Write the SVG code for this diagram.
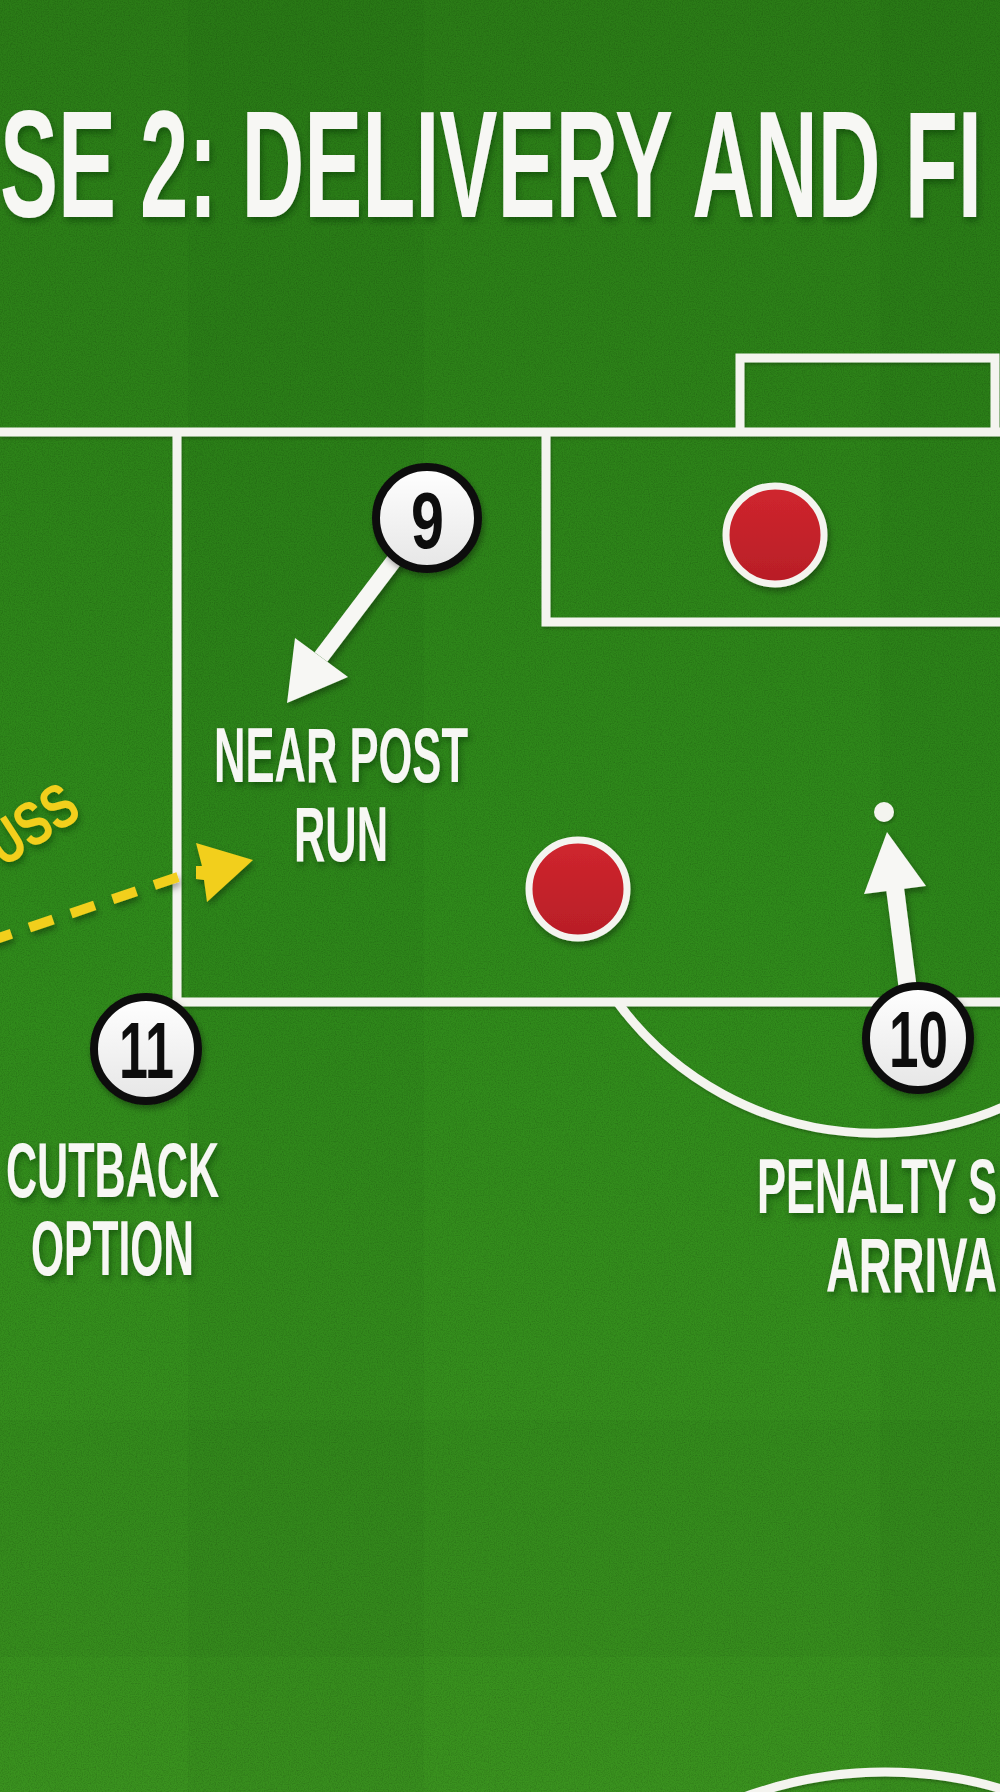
<svg xmlns="http://www.w3.org/2000/svg" width="1000" height="1792" viewBox="0 0 1000 1792">
  <defs>
    <linearGradient id="grass" x1="0" y1="0" x2="0" y2="1">
      <stop offset="0" stop-color="#2b7c17"/>
      <stop offset="0.5" stop-color="#2f8a1b"/>
      <stop offset="1" stop-color="#3a921f"/>
    </linearGradient>
    <linearGradient id="tokenFill" x1="0" y1="0" x2="0" y2="1">
      <stop offset="0" stop-color="#ffffff"/>
      <stop offset="1" stop-color="#e6e6e6"/>
    </linearGradient>
    <linearGradient id="redFill" x1="0" y1="0" x2="0" y2="1">
      <stop offset="0" stop-color="#d0262e"/>
      <stop offset="1" stop-color="#b81e27"/>
    </linearGradient>
    <filter id="noise" x="0" y="0" width="100%" height="100%">
      <feTurbulence type="fractalNoise" baseFrequency="0.85" numOctaves="2" seed="4" result="t"/>
      <feColorMatrix in="t" type="matrix" values="0 0 0 0 0  0 0 0 0 0  0 0 0 0 0  1.4 0 0 0 -0.55"/>
    </filter>
    <filter id="sh" x="-20%" y="-20%" width="140%" height="150%">
      <feDropShadow dx="2" dy="4" stdDeviation="3" flood-color="#000" flood-opacity="0.35"/>
    </filter>
    <filter id="tsh" x="-10%" y="-20%" width="120%" height="150%">
      <feDropShadow dx="2" dy="4" stdDeviation="3" flood-color="#0a2a05" flood-opacity="0.45"/>
    </filter>
    <filter id="lsh" x="-5%" y="-5%" width="110%" height="110%">
      <feDropShadow dx="1" dy="2" stdDeviation="1.5" flood-color="#000" flood-opacity="0.25"/>
    </filter>
  </defs>
  <style>
    .line { fill: none; stroke: #f4f4ef; stroke-width: 9; }
    .title { font-family: "Liberation Sans", "DejaVu Sans", sans-serif; font-weight: bold; font-size: 152px; fill: #f7f7f4; }
    .label { font-family: "Liberation Sans", "DejaVu Sans", sans-serif; font-weight: bold; font-size: 78px; fill: #f7f7f4; text-anchor: start; }
    .num { font-family: "Liberation Sans", "DejaVu Sans", sans-serif; font-weight: bold; font-size: 80px; fill: #111; }
    .ring { fill: url(#tokenFill); stroke: #111; stroke-width: 8; }
    .opp { fill: url(#redFill); stroke: #f4f4ef; stroke-width: 7; }
    .run { fill: #f7f7f4; }
    .cross { fill: none; stroke: #f2cf1d; stroke-width: 10; stroke-dasharray: 25 19; }
    .crossHead { fill: #f2cf1d; }
    .crossText { font-family: "Liberation Sans", "DejaVu Sans", sans-serif; font-weight: bold; font-size: 62px; fill: #f2cf1d; }
  </style>

  <!-- grass -->
  <rect x="0" y="0" width="1000" height="1792" fill="url(#grass)"/>
  <g>
    <rect x="188" y="0" width="236" height="1792" fill="#000" opacity="0.025"/>
    <rect x="880" y="0" width="120" height="1792" fill="#000" opacity="0.025"/>
    <rect x="0" y="1420" width="1000" height="237" fill="#000" opacity="0.025"/>
  </g>
  <rect x="0" y="0" width="1000" height="1792" filter="url(#noise)" opacity="0.22"/>

  <!-- pitch markings -->
  <g id="pitch" filter="url(#lsh)">
    <path class="line" d="M 740 432 V 358 H 995 V 432"/>
    <line class="line" x1="0" y1="432" x2="1000" y2="432"/>
    <path class="line" d="M 177 432 V 1002 H 1000"/>
    <path class="line" d="M 546 432 V 622 H 1000"/>
    <path class="line" d="M 617.3 1002 A 321 321 0 0 0 1135 1002"/>
    <circle cx="885" cy="2182" r="410" class="line"/>
    <circle id="penalty-spot" cx="884" cy="812" r="10" fill="#f4f4ef"/>
  </g>

  <!-- title -->
  <text class="title" x="0" y="217" textLength="982" lengthAdjust="spacingAndGlyphs" filter="url(#tsh)">SE 2: DELIVERY AND FI</text>

  <!-- connectors -->
  <g id="connectors">
    <g id="run-9" filter="url(#sh)">
      <line x1="405" y1="546" x2="321" y2="657" stroke="#f7f7f4" stroke-width="16"/>
      <polygon class="run" points="287,703 295,638 348,677"/>
    </g>
    <g id="run-10" filter="url(#sh)">
      <line x1="908" y1="990" x2="895" y2="888" stroke="#f7f7f4" stroke-width="18"/>
      <polygon class="run" points="887,832 864,894 926,886"/>
    </g>
    <g id="cross-pass" filter="url(#sh)">
      <path class="cross" d="M 178 877 L -10 941"/>
      <polygon class="crossHead" points="253,860 196,843 202,866 196,866 196,879 204,880 207,902"/>
    </g>
  </g>

  <!-- opponents -->
  <g id="opponent-1" filter="url(#sh)">
    <circle class="opp" cx="775" cy="535" r="49"/>
  </g>
  <g id="opponent-2" filter="url(#sh)">
    <circle class="opp" cx="578" cy="889" r="49"/>
  </g>

  <!-- players -->
  <g id="player-9" filter="url(#sh)">
    <circle class="ring" cx="427" cy="518" r="51"/>
    <text class="num" x="411" y="548" textLength="33" lengthAdjust="spacingAndGlyphs">9</text>
  </g>
  <g id="player-11" filter="url(#sh)">
    <circle class="ring" cx="146" cy="1049" r="52"/>
    <text class="num" x="119" y="1078" textLength="55" lengthAdjust="spacingAndGlyphs">11</text>
  </g>
  <g id="player-10" filter="url(#sh)">
    <circle class="ring" cx="918" cy="1038" r="52"/>
    <text class="num" x="889" y="1067" textLength="59" lengthAdjust="spacingAndGlyphs">10</text>
  </g>

  <!-- labels -->
  <g id="labels" filter="url(#tsh)">
    <text class="label" x="214" y="782" textLength="254" lengthAdjust="spacingAndGlyphs">NEAR POST</text>
    <text class="label" x="294" y="861" textLength="94" lengthAdjust="spacingAndGlyphs">RUN</text>
    <text class="label" x="6" y="1197" textLength="213" lengthAdjust="spacingAndGlyphs">CUTBACK</text>
    <text class="label" x="31" y="1275" textLength="163" lengthAdjust="spacingAndGlyphs">OPTION</text>
    <text class="label" x="757" y="1213" textLength="240" lengthAdjust="spacingAndGlyphs">PENALTY S</text>
    <text class="label" x="826" y="1292" textLength="171" lengthAdjust="spacingAndGlyphs">ARRIVA</text>
    <text class="crossText" transform="translate(3,868) rotate(-33)" x="0" y="0" textLength="96" lengthAdjust="spacingAndGlyphs">USS</text>
  </g>
</svg>
